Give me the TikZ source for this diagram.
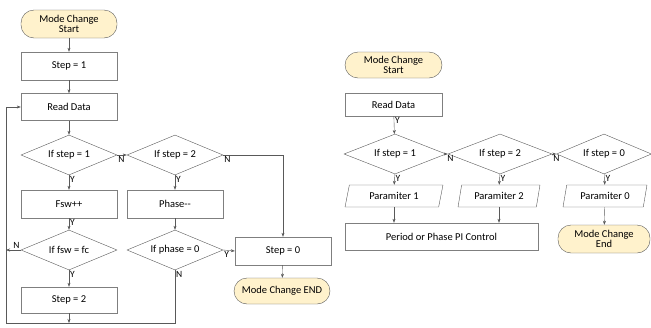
\documentclass[tikz,border=0pt]{standalone}
\usepackage{fontspec}
\setmainfont{Carlito}
\usetikzlibrary{positioning,arrows.meta,shapes.geometric}
\definecolor{termfill}{HTML}{FFF2CC}
\definecolor{boxgray}{HTML}{7F7F7F}
\definecolor{linegray}{HTML}{595959}

\begin{document}
\begin{tikzpicture}[x=1pt,y=-1pt,
  font=\fontsize{10.5}{12}\selectfont,
  box/.style={draw=boxgray, fill=white, minimum width=96pt, minimum height=28pt, inner sep=1pt},
  term/.style={draw=linegray, fill=termfill, rounded corners=13pt, minimum width=96pt, minimum height=28pt, align=center, inner sep=1pt},
  cond/.style={diamond, draw=linegray, aspect=2.4, minimum width=96pt, minimum height=40pt, inner sep=0pt},
  param/.style={trapezium, trapezium left angle=75, trapezium right angle=105, trapezium stretches=true, draw=linegray, fill=white, minimum height=22pt, inner sep=1pt},
  arr/.style={draw=linegray, -{Stealth[length=4pt,width=3pt]}},
  lbl/.style={inner sep=1pt, font=\fontsize{9.5}{10}\selectfont}]
\useasboundingbox (0,0) rectangle (651,327);

% left flow: mode change with step counter
\node[term] (start) at (69,24) {Mode Change\\[-2pt]Start};
\node[box] (s1) at (69,66) {Step = 1};
\node[box, minimum height=27pt] (rd) at (69,107) {Read Data};
\node[cond] (d1) at (69,155) {If step = 1};
\node[cond] (d2) at (175,155) {If step = 2};
\node[box] (fsw) at (69,204) {Fsw++};
\node[box] (ph) at (175,204) {Phase{-}{-}};
\node[cond] (d3) at (69,250) {If fsw = fc};
\node[cond] (d4) at (175,250) {If phase = 0};
\node[box] (s0) at (283,251) {Step = 0};
\node[term, minimum height=26pt] (fin) at (282,291) {Mode Change END};
\node[box, minimum height=26pt] (s2) at (69,300) {Step = 2};
\coordinate (loopL) at (6,323);
\coordinate (loopR) at (175,323);

\draw[arr] (start) -- (s1);
\draw[arr] (s1) -- (rd);
\draw[arr] (rd) -- (d1);
\draw[arr] (d1) -- (fsw) node[pos=0, lbl, below right] {Y};
\draw[arr] (fsw) -- (d3) node[pos=0, lbl, below right] {Y};
\draw[arr] (d3) -- (s2) node[pos=0, lbl, below right] {Y};
\draw[arr] (d2) -- (ph) node[pos=0, lbl, below right] {Y};
\draw[arr] (ph) -- (d4);
\draw[arr] (d1.east) -- (d2.west) node[pos=0, lbl, below right] {N};
\draw[arr] (d2.east) -| (s0.north) node[pos=0, lbl, below right] {N};
\draw[arr] (d4.east) -- (s0.west) node[pos=0, lbl, below right] {Y};
\draw[arr] (s0) -- (fin);
\draw[arr] (d3.west) -- (d3.west -| loopL) node[pos=0, lbl, above left] {N};
\draw[arr] (s2.south) -- (s2.south |- loopL);
\draw[arr] (d4.south) node[lbl, below right] {N} -- (loopR) -- (loopL) |- (rd.west);

% right flow: parameter selection
\node[term, minimum width=97pt, minimum height=26pt] (rstart) at (393.5,65) {Mode Change\\[-2pt]Start};
\node[box, minimum width=97pt, minimum height=23pt] (rrd) at (393.5,104.5) {Read Data};
\node[cond, minimum width=102pt] (rd1) at (395,154) {If step = 1};
\node[cond, minimum width=104pt] (rd2) at (500,154) {If step = 2};
\node[cond, minimum width=95pt] (rd3) at (604,154) {If step = 0};
\node[param, minimum width=98pt] (pm1) at (394,196) {Paramiter 1};
\node[param, minimum width=82pt] (pm2) at (499,196) {Paramiter 2};
\node[param, minimum width=84pt] (pm0) at (605,196) {Paramiter 0};
\node[box, minimum width=193pt, minimum height=27pt] (pi) at (441.5,236.5) {Period or Phase PI Control};
\node[term, minimum width=92pt] (rfin) at (604,239) {Mode Change\\[-2pt]End};

\draw[arr] (rrd) -- (rd1) node[pos=0, lbl, below right] {Y};
\draw[arr] (rd1.east) -- (rd2.west) node[pos=0, lbl, below right] {N};
\draw[arr] (rd2.east) -- (rd3.west) node[pos=0, lbl, below right] {N};
\draw[arr] (rd1) -- (pm1) node[pos=0, lbl, below right] {Y};
\draw[arr] (rd2) -- (pm2) node[pos=0, lbl, below right] {Y};
\draw[arr] (rd3) -- (pm0) node[pos=0, lbl, below right] {Y};
\draw[arr] (pm1.south) -- (pm1.south |- pi.north);
\draw[arr] (pm2.south) -- (pm2.south |- pi.north);
\draw[arr] (pm0) -- (rfin);
\end{tikzpicture}
\end{document}
